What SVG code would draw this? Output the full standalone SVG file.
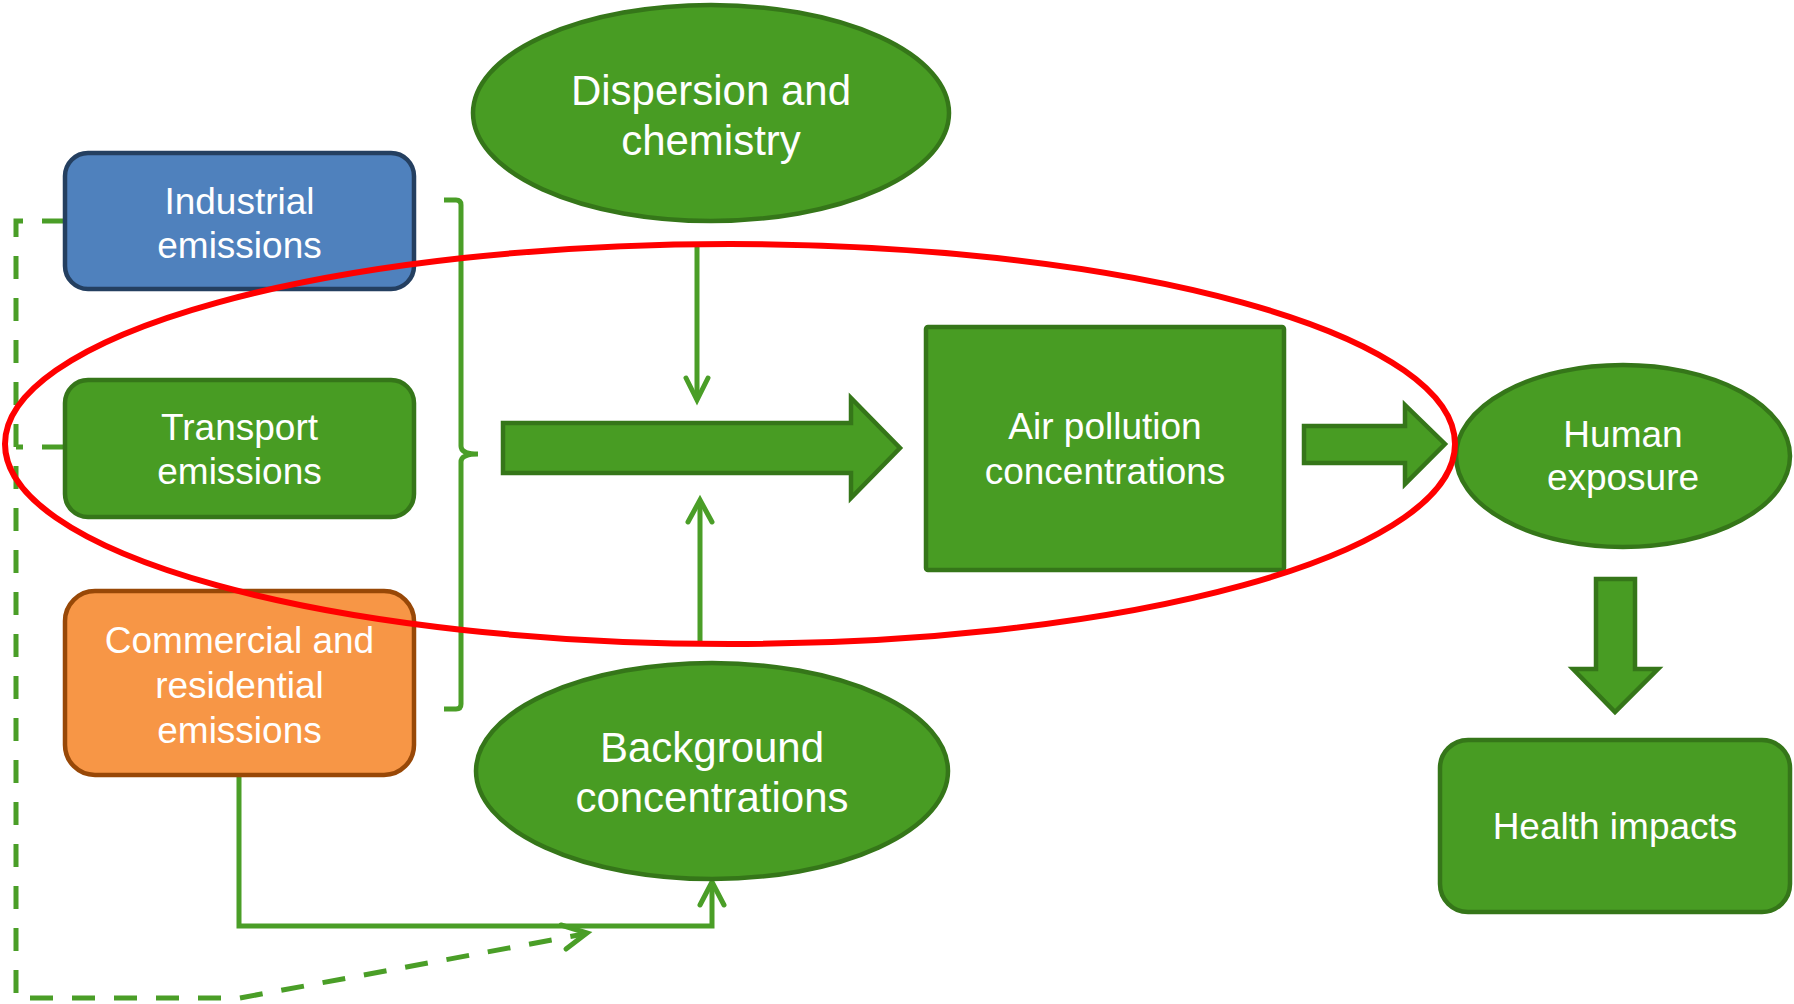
<svg xmlns="http://www.w3.org/2000/svg" width="1794" height="1004" viewBox="0 0 1794 1004">
  <style>
    .lbl { font-family: "Liberation Sans", Arial, sans-serif; fill: #ffffff; text-anchor: middle; }
    .s37 { font-size: 37px; }
    .s42 { font-size: 42px; }
    .green { fill: #489c23; stroke: #357619; stroke-width: 4.5; }
    .link { fill: none; stroke: #4a9e27; stroke-width: 5; }
    .dash { fill: none; stroke: #4a9e27; stroke-width: 5; stroke-dasharray: 23 19; }
    .head { fill: none; stroke: #4a9e27; stroke-width: 5; stroke-linecap: round; stroke-linejoin: miter; }
    .block { fill: #489c23; stroke: #357619; stroke-width: 4.5; stroke-linejoin: miter; }
  </style>
  <rect width="1794" height="1004" fill="#ffffff"/>

  <!-- connectors -->
  <g id="connectors">
    <!-- brace grouping the emission sources -->
    <path class="link" d="M444,200 H456 Q461,200 461,205 V446 Q461,454 478,454 M478,454 Q461,454 461,462 V704 Q461,709 456,709 H444"/>
    <!-- dashed feedback from industrial and transport emissions -->
    <path class="dash" d="M65,221 H16 V998 H240 L584,934"/>
    <path class="dash" d="M65,447 H16"/>
    <polyline class="head" points="561,925 587,933 566,949"/>
    <!-- commercial emissions to background -->
    <path class="link" d="M239,775 V926 H712 V884"/>
    <polyline class="head" points="700,905 712,882 724,905"/>
    <!-- dispersion down -->
    <line class="link" x1="697" y1="246" x2="697" y2="398"/>
    <polyline class="head" points="686,378 697,400 708,378"/>
    <!-- background up -->
    <line class="link" x1="700" y1="642" x2="700" y2="502"/>
    <polyline class="head" points="688,522 700,500 712,522"/>
    <!-- block arrows -->
    <polygon class="block" points="503,423 851,423 851,398 900,448 851,498 851,473 503,473"/>
    <polygon class="block" points="1304,426 1405,426 1405,405 1445,444 1405,484 1405,463 1304,463"/>
    <polygon class="block" points="1596,579 1635,579 1635,669 1658,669 1615,712 1573,669 1596,669"/>
  </g>

  <g id="industrial">
    <rect x="65" y="153" width="349" height="136" rx="23" fill="#4f81bd" stroke="#243f60" stroke-width="4.5"/>
    <text class="lbl s37" x="239.5" y="214">Industrial</text>
    <text class="lbl s37" x="239.5" y="258">emissions</text>
  </g>

  <g id="transport">
    <rect x="65" y="380" width="349" height="137" rx="23" class="green"/>
    <text class="lbl s37" x="239.5" y="440">Transport</text>
    <text class="lbl s37" x="239.5" y="484">emissions</text>
  </g>

  <g id="commercial">
    <rect x="65" y="591" width="349" height="184" rx="30" fill="#f79646" stroke="#984807" stroke-width="4.5"/>
    <text class="lbl s37" x="239.5" y="653">Commercial and</text>
    <text class="lbl s37" x="239.5" y="698">residential</text>
    <text class="lbl s37" x="239.5" y="743">emissions</text>
  </g>

  <g id="dispersion">
    <ellipse cx="711" cy="113" rx="238" ry="108" class="green"/>
    <text class="lbl s42" x="711" y="105">Dispersion and</text>
    <text class="lbl s42" x="711" y="155">chemistry</text>
  </g>

  <g id="background">
    <ellipse cx="712" cy="771" rx="236" ry="108" class="green"/>
    <text class="lbl s42" x="712" y="762">Background</text>
    <text class="lbl s42" x="712" y="812">concentrations</text>
  </g>

  <g id="air-pollution">
    <rect x="926" y="327" width="358" height="243" rx="2" class="green"/>
    <text class="lbl s37" x="1105" y="439">Air pollution</text>
    <text class="lbl s37" x="1105" y="484">concentrations</text>
  </g>

  <g id="exposure">
    <ellipse cx="1623" cy="456" rx="167" ry="91" class="green"/>
    <text class="lbl s37" x="1623" y="447">Human</text>
    <text class="lbl s37" x="1623" y="490">exposure</text>
  </g>

  <g id="health">
    <rect x="1440" y="740" width="350" height="172" rx="28" class="green"/>
    <text class="lbl s37" x="1615" y="839">Health impacts</text>
  </g>

  <!-- highlight ring -->
  <g id="highlight">
    <ellipse cx="730" cy="444" rx="725" ry="200" fill="none" stroke="#ff0000" stroke-width="6"/>
  </g>
</svg>
